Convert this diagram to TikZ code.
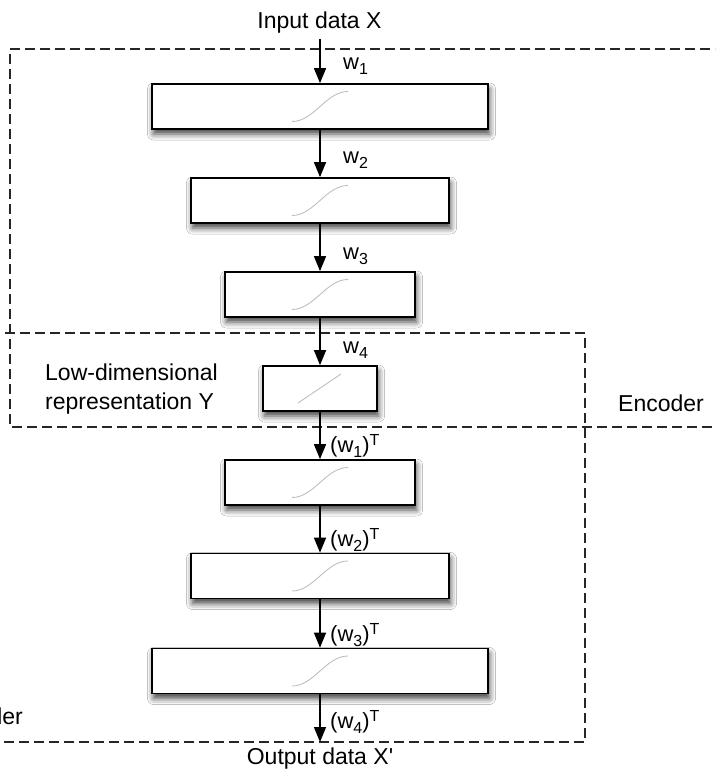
\documentclass[tikz,border=0pt]{standalone}
\usepackage{fontspec}
\setmainfont{Liberation Sans}
\usetikzlibrary{arrows.meta,shadows.blur}
\newcommand{\sbs}[1]{\raisebox{-5pt}{\fontsize{16}{16}\selectfont #1}}
\newcommand{\sps}[1]{\raisebox{7pt}{\fontsize{16}{16}\selectfont #1}}
\begin{document}
\begin{tikzpicture}[x=1pt,y=-1pt,
  layer/.style={draw=black, line width=1.7pt, fill=white, minimum height=45pt, inner sep=0pt,
    blur shadow={shadow xshift=1.5pt, shadow yshift=-5pt, shadow blur radius=6pt, shadow opacity=75}},
  txt/.style={font=\fontsize{23}{29}\selectfont, inner sep=0pt},
  lbl/.style={font=\fontsize{22}{26}\selectfont, inner sep=0pt, anchor=base west},
  arr/.style={line width=1.5pt, -{Triangle[width=12pt,length=15pt]}},
  dsh/.style={line width=1.7pt, black!85, dash pattern=on 10pt off 5pt},
  sigm/.pic={\draw[gray!55, line width=0.8pt] (-28,15) .. controls (-6,15) and (6,-15) .. (28,-15);},
  linf/.pic={\draw[gray!55, line width=0.8pt] (-22,14.5) -- (21,-14.5);}
]
\useasboundingbox (0,0) rectangle (715,770);
\clip (0,0) rectangle (715,770);
\fill[white] (0,0) rectangle (715,770);

% dashed frames
\draw[dsh] (725,49) -- (10,49) -- (10,427) -- (725,427);
\draw[dsh] (-10,333) -- (585,333) -- (585,742) -- (-10,742);

% layers
\node[layer, minimum width=336pt] (b1) at (320,106.5) {};
\node[layer, minimum width=258pt] (b2) at (320,200.5) {};
\node[layer, minimum width=190pt] (b3) at (320,294.5) {};
\node[layer, minimum width=114pt] (b4) at (320,388.5) {};
\node[layer, minimum width=190pt] (b5) at (320,482.5) {};
\node[layer, minimum width=258pt] (b6) at (320,576) {};
\node[layer, minimum width=336pt] (b7) at (320,671) {};

\pic at (b1.center) {sigm};
\pic at (b2.center) {sigm};
\pic at (b3.center) {sigm};
\pic at (b4.center) {linf};
\pic at (b5.center) {sigm};
\pic at (b6.center) {sigm};
\pic at (b7.center) {sigm};

% texts
\node[txt, anchor=base] (inp) at (319.5,29) {Input data X};
\node[txt, anchor=base] (outp) at (320,764) {Output data X\textquotesingle};
\node[txt, anchor=base west] (enc) at (618,411) {Encoder};
\node[txt, anchor=base east] (dec) at (23,724) {Decoder};
\node[txt, align=left, anchor=west] (ld) at (45,389) {Low-dimensional\\representation Y};
\coordinate (oend) at (320,742);

% arrows
\draw[arr] (b1.north |- inp.south) ++(0,5) -- (b1.north);
\draw[arr] (b1.south) -- (b2.north);
\draw[arr] (b2.south) -- (b3.north);
\draw[arr] (b3.south) -- (b4.north);
\draw[arr] (b4.south) -- (b5.north);
\draw[arr] (b5.south) -- (b6.north);
\draw[arr] (b6.south) -- (b7.north);
\draw[arr] (b7.south) -- (oend);

% weight labels
\node[lbl] (w1) at (343,70) {w\sbs{1}};
\node[lbl] (w2) at (343,164) {w\sbs{2}};
\node[lbl] (w3) at (343,259) {w\sbs{3}};
\node[lbl] (w4) at (343,353) {w\sbs{4}};
\node[lbl] (t1) at (330,452) {(w\sbs{1})\sps{T}};
\node[lbl] (t2) at (330,546) {(w\sbs{2})\sps{T}};
\node[lbl] (t3) at (330,641) {(w\sbs{3})\sps{T}};
\node[lbl] (t4) at (330,728) {(w\sbs{4})\sps{T}};
\end{tikzpicture}
\end{document}
